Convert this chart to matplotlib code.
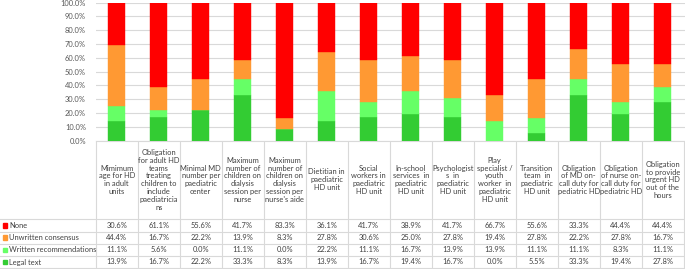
import matplotlib
matplotlib.use("Agg")
import matplotlib.pyplot as plt
import numpy as np

plt.rcParams['font.family'] = ['Lato', 'DejaVu Sans']

# Data (percent)
categories = [
    "Mimimum\nage for HD\nin adult\nunits",
    "Obligation\nfor adult HD\nteams\ntreating\nchildren to\ninclude\npaediatricia\nns",
    "Minimal MD\nnumber per\npaediatric\ncenter",
    "Maximum\nnumber of\nchildren on\ndialysis\nsession per\nnurse",
    "Maximum\nnumber of\nchildren on\ndialysis\nsession per\nnurse's aide",
    "Dietitian in\npaediatric\nHD unit",
    "Social\nworkers in\npaediatric\nHD unit",
    "In-school\nservices  in\npaediatric\nHD unit",
    "Psychologist\ns  in\npaediatric\nHD unit",
    "Play\nspecialist /\nyouth\nworker  in\npaediatric\nHD unit",
    "Transition\nteam  in\npaediatric\nHD unit",
    "Obligation\nof MD on-\ncall duty for\npediatric HD",
    "Obligation\nof nurse on-\ncall duty for\npediatric HD",
    "Obligation\nto provide\nurgent HD\nout of the\nhours",
]
legal = [13.9, 16.7, 22.2, 33.3, 8.3, 13.9, 16.7, 19.4, 16.7, 0.0, 5.5, 33.3, 19.4, 27.8]
written = [11.1, 5.6, 0.0, 11.1, 0.0, 22.2, 11.1, 16.7, 13.9, 13.9, 11.1, 11.1, 8.3, 11.1]
unwritten = [44.4, 16.7, 22.2, 13.9, 8.3, 27.8, 30.6, 25.0, 27.8, 19.4, 27.8, 22.2, 27.8, 16.7]
none = [30.6, 61.1, 55.6, 41.7, 83.3, 36.1, 41.7, 38.9, 41.7, 66.7, 55.6, 33.3, 44.4, 44.4]

series = [("Legal text", legal, "#33CC33"),
          ("Written recommendations", written, "#66FF66"),
          ("Unwritten consensus", unwritten, "#FF9933"),
          ("None", none, "#FF0000")]

W, H = 685, 269
fig = plt.figure(figsize=(W / 100, H / 100), dpi=100)

x0, colw = 95.7, 42.0
n = len(categories)
top_px, bot_px = 2.7, 140.5
fs = 5.4

ax = fig.add_axes([x0 / W, 1 - bot_px / H, (W - x0) / W, (bot_px - top_px) / H])
x = np.arange(n)
bottom = np.zeros(n)
for name, vals, col in series:
    ax.bar(x, vals, 0.4, bottom=bottom, color=col, edgecolor=col, linewidth=0.3, zorder=3)
    bottom += np.array(vals)

ax.set_xlim(-0.5, -0.5 + (W - x0) / colw)
ax.set_ylim(0, 100)
ax.set_yticks(np.arange(0, 101, 10))
ax.set_yticklabels([f"{v:.1f}%" for v in np.arange(0, 101, 10)], fontsize=fs, color="#595959")
ax.tick_params(axis='y', length=0, pad=7)
ax.set_xticks([])
ax.grid(axis='y', color="#D9D9D9", linewidth=0.8, zorder=0)
for s in ["left", "right", "top"]:
    ax.spines[s].set_visible(False)
ax.spines["bottom"].set_color("#D9D9D9")
ax.spines["bottom"].set_linewidth(0.8)

# data table below
tab = fig.add_axes([0, 0, 1, 1], zorder=-1)
tab.set_xlim(0, W)
tab.set_ylim(H, 0)
tab.axis('off')
lc = "#D9D9D9"
head_bot = 219.3
row_h = 12.2
rows_end = head_bot + 4 * row_h

# vertical lines
for i in range(n + 1):
    xv = x0 + i * colw
    tab.plot([xv, xv], [bot_px, rows_end], color=lc, lw=0.8)
# horizontal lines
for j in range(5):
    yv = head_bot + j * row_h
    tab.plot([0, x0 + n * colw], [yv, yv], color=lc, lw=0.8)

for i, c in enumerate(categories):
    tab.text(x0 + (i + 0.5) * colw, (bot_px + head_bot) / 2, c, ha='center', va='center',
             fontsize=fs, color="#404040", linespacing=1.15)

table_rows = [("None", none, "#FF0000"),
              ("Unwritten consensus", unwritten, "#FF9933"),
              ("Written recommendations", written, "#66FF66"),
              ("Legal text", legal, "#33CC33")]
for j, (name, vals, col) in enumerate(table_rows):
    yc = head_bot + (j + 0.5) * row_h
    tab.add_patch(plt.Rectangle((3, yc - 2.2), 4.4, 4.4, color=col))
    tab.text(9, yc, name, ha='left', va='center', fontsize=fs, color="#404040")
    for i, v in enumerate(vals):
        tab.text(x0 + (i + 0.5) * colw, yc, f"{v:.1f}%", ha='center', va='center',
                 fontsize=fs, color="#404040")

fig.savefig("out.png", dpi=100)
